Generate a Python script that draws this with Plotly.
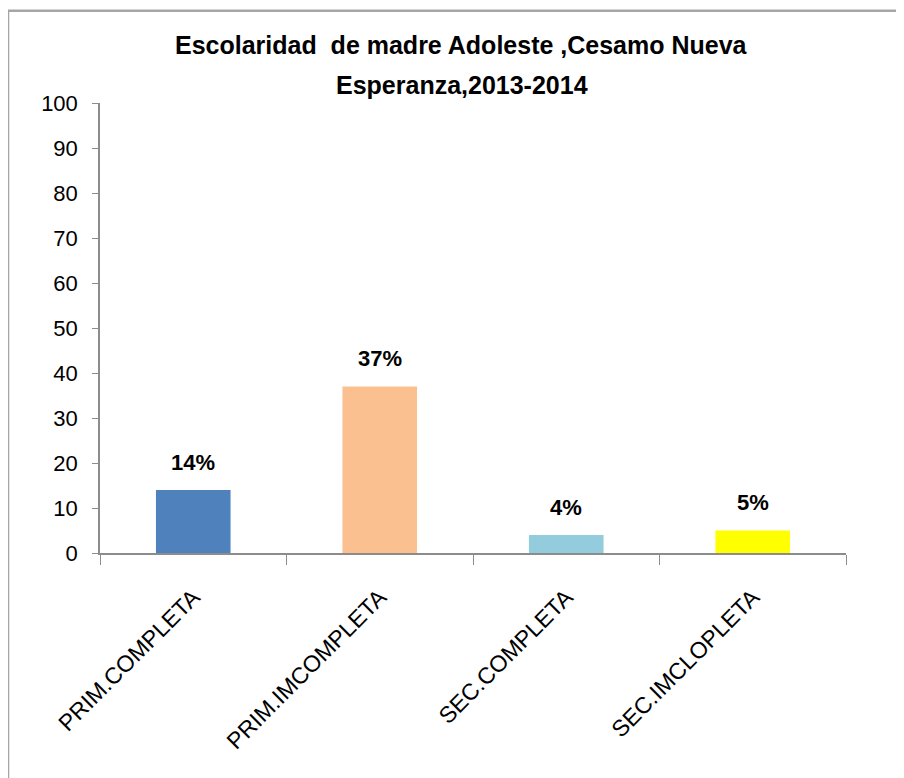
import plotly.graph_objects as go

categories = ["PRIM.COMPLETA", "PRIM.IMCOMPLETA", "SEC.COMPLETA", "SEC.IMCLOPLETA"]
values = [14, 37, 4, 5]
labels = ["14%", "37%", "4%", "5%"]
colors = ["#4F81BD", "#FAC090", "#93CDDD", "#FFFF00"]
y_ticks = [0, 10, 20, 30, 40, 50, 60, 70, 80, 90, 100]
title_lines = ["Escolaridad  de madre Adoleste ,Cesamo Nueva", "Esperanza,2013-2014"]

FONT = "Liberation Sans, Arial, sans-serif"

fig = go.Figure()
fig.add_trace(go.Bar(
    x=categories, y=values, marker=dict(color=colors, line=dict(width=0)),
    width=0.4, showlegend=False, hoverinfo="x+y",
))

for c, v, t in zip(categories, values, labels):
    fig.add_annotation(x=c, y=v, text="<b>%s</b>" % t, showarrow=False,
                       yshift=28, font=dict(family=FONT, size=22, color="black"))

for line, yy in zip(title_lines, [1.1289, 1.04]):
    fig.add_annotation(xref="paper", yref="paper", x=0.485, y=yy, text="<b>%s</b>" % line,
                       showarrow=False, xanchor="center", yanchor="middle",
                       font=dict(family=FONT, size=25, color="black"))

fig.update_layout(
    width=904, height=778,
    margin=dict(l=92, r=66, t=95, b=233),
    paper_bgcolor="white", plot_bgcolor="white",
    font=dict(family=FONT, color="black"),
    bargap=0.6,
)
fig.update_yaxes(range=[0, 100], tickvals=y_ticks, showgrid=False, zeroline=False,
                 showline=True, linecolor="#8C8C8C", linewidth=1.5,
                 ticks="outside", ticklen=6, tickcolor="#8C8C8C",
                 tickfont=dict(family=FONT, size=22, color="black"), ticklabelstandoff=10)
fig.update_xaxes(showgrid=False, showline=True, linecolor="#8C8C8C", linewidth=1.5,
                 ticks="outside", ticklen=10, tickcolor="#8C8C8C", tickson="boundaries",
                 tickangle=-45, ticklabelstandoff=20,
                 tickfont=dict(family=FONT, size=23, color="black"))

fig.add_shape(type="rect", xref="paper", yref="paper",
              x0=-0.1233, x1=1.3, y0=-1, y1=1.205,
              line=dict(color="#A6A6A6", width=2.5), layer="below")

fig.write_html("out.html")
